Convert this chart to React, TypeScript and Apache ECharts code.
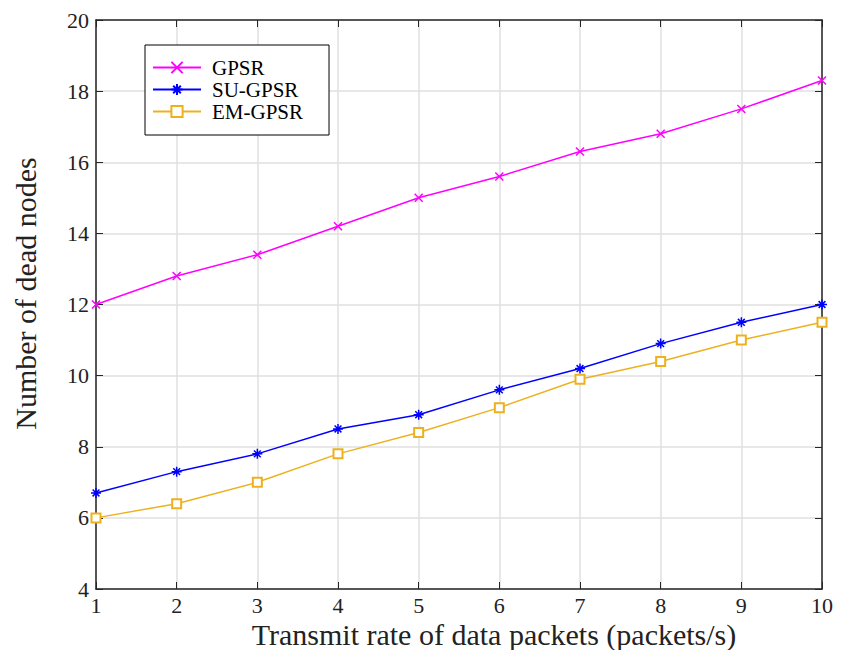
import React, { useEffect, useRef } from "react";
import * as echarts from "echarts";

const xValues = [1, 2, 3, 4, 5, 6, 7, 8, 9, 10];
const gpsr = [12.0, 12.8, 13.4, 14.2, 15.0, 15.6, 16.3, 16.8, 17.5, 18.3];
const suGpsr = [6.7, 7.3, 7.8, 8.5, 8.9, 9.6, 10.2, 10.9, 11.5, 12.0];
const emGpsr = [6.0, 6.4, 7.0, 7.8, 8.4, 9.1, 9.9, 10.4, 11.0, 11.5];
const seriesNames = ["GPSR", "SU-GPSR", "EM-GPSR"];

const FONT = "Liberation Serif";
const X_SYMBOL = "path://M0,0L10,10M10,0L0,10";
const STAR_SYMBOL = "path://M5,0L5,10M0,5L10,5M1.6,1.6L8.4,8.4M8.4,1.6L1.6,8.4";

export default function App() {
  const ref = useRef<HTMLDivElement>(null);
  useEffect(() => {
    if (!ref.current) return;
    const chart = echarts.init(ref.current, undefined, { renderer: "svg" });
    const toPairs = (arr: number[]) => arr.map((v, i) => [xValues[i], v]);
    const mk = (name: string, data: number[], color: string, symbol: string, size: number) => ({
      name,
      type: "line",
      data: toPairs(data),
      symbol,
      symbolSize: size,
      showSymbol: true,
      lineStyle: { color, width: 1.5 },
      itemStyle:
        symbol === "emptyRect"
          ? { color, borderColor: color, borderWidth: 1.5 }
          : { color: "transparent", borderColor: color, borderWidth: 1.5 },
      emphasis: { disabled: true },
      z: 3,
    });
    chart.setOption({
      animation: false,
      backgroundColor: "#fff",
      textStyle: { fontFamily: FONT },
      grid: { left: 96, right: 20, top: 20, bottom: 61, containLabel: false, outerBoundsMode: "none" },
      legend: {
        orient: "vertical",
        left: 145,
        top: 45,
        data: seriesNames,
        itemWidth: 48,
        itemHeight: 14,
        itemGap: 1,
        padding: [12, 26, 13, 7],
        borderColor: "#000",
        borderWidth: 1,
        backgroundColor: "#fff",
        textStyle: { fontFamily: FONT, fontSize: 21, lineHeight: 21, color: "#000", padding: [0, 0, 0, 6] },
      },
      xAxis: [
        {
          type: "value",
          min: 1,
          max: 10,
          interval: 1,
          name: "Transmit rate of data packets (packets/s)",
          nameLocation: "middle",
          nameGap: 30,
          nameMoveOverlap: false,
          nameTextStyle: { fontFamily: FONT, fontSize: 30, lineHeight: 30, color: "#222", padding: [0, 0, 0, 70] },
          axisLine: { lineStyle: { color: "#262626", width: 1.5 } },
          axisTick: { inside: true, length: 7, lineStyle: { color: "#262626" } },
          axisLabel: { fontFamily: FONT, fontSize: 22, lineHeight: 22, color: "#222", margin: 5 },
          splitLine: { show: true, lineStyle: { color: "#e1e1e1", width: 1.5 } },
        },
        {
          type: "value",
          position: "top",
          min: 1,
          max: 10,
          interval: 1,
          axisLine: { show: true, lineStyle: { color: "#262626", width: 1.5 } },
          axisTick: { show: true, inside: true, length: 7, lineStyle: { color: "#262626" } },
          axisLabel: { show: false },
          splitLine: { show: false },
        },
      ],
      yAxis: [
        {
          type: "value",
          min: 4,
          max: 20,
          interval: 2,
          name: "Number of dead nodes",
          nameLocation: "middle",
          nameGap: 56,
          nameTextStyle: { fontFamily: FONT, fontSize: 30, color: "#222", padding: [0, 0, 0, 22] },
          axisLine: { show: true, lineStyle: { color: "#262626", width: 1.5 } },
          axisTick: { show: true, inside: true, length: 7, lineStyle: { color: "#262626" } },
          axisLabel: { fontFamily: FONT, fontSize: 22, color: "#222", margin: 7 },
          splitLine: { show: true, lineStyle: { color: "#e1e1e1", width: 1.5 } },
        },
        {
          type: "value",
          position: "right",
          min: 4,
          max: 20,
          interval: 2,
          axisLine: { show: true, lineStyle: { color: "#262626", width: 1.5 } },
          axisTick: { show: true, inside: true, length: 7, lineStyle: { color: "#262626" } },
          axisLabel: { show: false },
          splitLine: { show: false },
        },
      ],
      series: [
        mk("GPSR", gpsr, "#ff00ff", X_SYMBOL, 8),
        mk("SU-GPSR", suGpsr, "#0000ff", STAR_SYMBOL, 10),
        mk("EM-GPSR", emGpsr, "#edb120", "emptyRect", 9),
      ],
    });
    return () => chart.dispose();
  }, []);
  return <div ref={ref} style={{ width: 842, height: 650, position: "absolute", left: 0, top: 0 }} />;
}
